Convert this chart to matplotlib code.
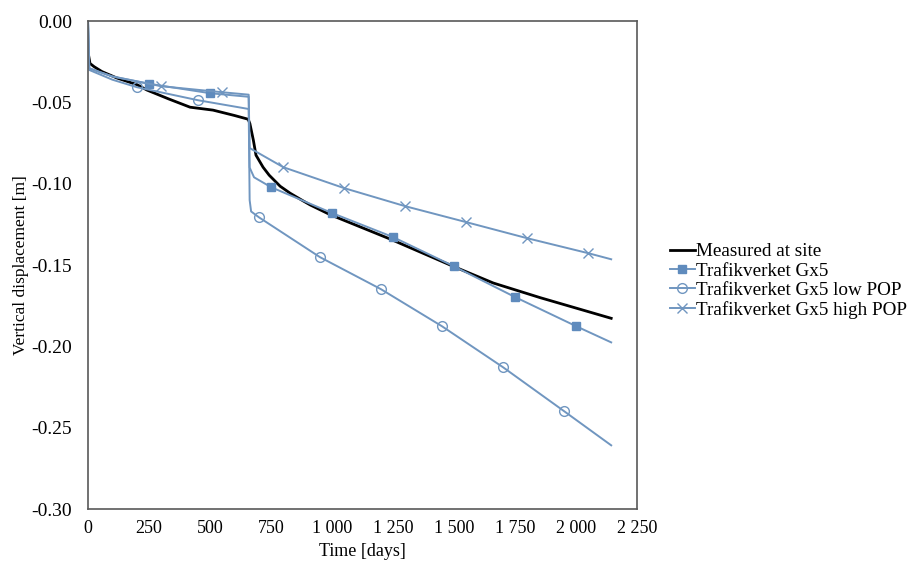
import numpy as np
import matplotlib.pyplot as plt
from matplotlib.ticker import FixedLocator, FixedFormatter

plt.rcParams['font.family'] = ['Liberation Serif', 'DejaVu Serif']

# measured settlement
meas_days = [0, 8, 25, 57, 119, 200, 242, 330, 418, 512, 600, 656, 663, 677, 688, 717, 742,
             787, 828, 881, 910, 992, 1238, 1500, 1660, 1852, 2143]
meas_disp = [-0.019, -0.026, -0.028, -0.031, -0.035, -0.039, -0.0424, -0.0478, -0.0529, -0.0547,
             -0.058, -0.0603, -0.063, -0.073, -0.0824, -0.0898, -0.0947,
             -0.1015, -0.1058, -0.1105, -0.113, -0.119, -0.134, -0.151, -0.161, -0.170, -0.1827]

# Trafikverket Gx5 (markers every 250 days from 250)
gx5_days = [0, 5, 100, 250, 500, 658, 662, 680, 750, 1000, 1250, 1500, 1750, 2000, 2143]
gx5_disp = [0.0, -0.029, -0.034, -0.0385, -0.0443, -0.0465, -0.090, -0.096, -0.1021, -0.118,
            -0.1328, -0.1508, -0.1697, -0.1876, -0.1975]
gx5_marks = [3, 4, 8, 9, 10, 11, 12, 13]

# low POP (markers from 200)
low_days = [0, 5, 100, 200, 450, 658, 662, 668, 700, 950, 1200, 1450, 1700, 1950, 2143]
low_disp = [0.0, -0.030, -0.036, -0.0406, -0.0486, -0.054, -0.110, -0.117, -0.1206, -0.1451,
            -0.1648, -0.1876, -0.2128, -0.2398, -0.2608]
low_marks = [3, 4, 8, 9, 10, 11, 12, 13]

# high POP (markers from 300)
high_days = [0, 5, 100, 300, 550, 658, 662, 800, 1050, 1300, 1550, 1800, 2050, 2143]
high_disp = [0.0, -0.029, -0.034, -0.0400, -0.0437, -0.0452, -0.078, -0.0898, -0.1027,
             -0.1138, -0.1236, -0.1335, -0.1427, -0.1464]
high_marks = [3, 4, 7, 8, 9, 10, 11, 12]

x_ticks = [0, 250, 500, 750, 1000, 1250, 1500, 1750, 2000, 2250]
x_labels = ['0', '250', '500', '750', '1 000', '1 250', '1 500', '1 750', '2 000', '2 250']
y_ticks = [0.0, -0.05, -0.10, -0.15, -0.20, -0.25, -0.30]
y_labels = ['0.00', '-0.05', '-0.10', '-0.15', '-0.20', '-0.25', '-0.30']

blue = '#7096c0'
mblue = '#5f8bbd'

fig = plt.figure(figsize=(9.17, 5.72), dpi=100)
ax = fig.add_axes([0.096, 0.110, 0.599, 0.853])

ax.plot(meas_days, meas_disp, color='black', lw=2.0, label='Measured at site')
ax.plot(gx5_days, gx5_disp, color=blue, lw=1.4, marker='s', ms=6, mfc=mblue, mec=mblue,
        markevery=gx5_marks, label='Trafikverket Gx5')
ax.plot(low_days, low_disp, color=blue, lw=1.4, marker='o', ms=7, mfc='none', mec=blue,
        mew=1.0, markevery=low_marks, label='Trafikverket Gx5 low POP')
ax.plot(high_days, high_disp, color=blue, lw=1.4, marker='x', ms=7, mec=blue, mew=1.0,
        markevery=high_marks, label='Trafikverket Gx5 high POP')

ax.set_xlim(0, 2250)
ax.set_ylim(-0.30, 0.0)
ax.xaxis.set_major_locator(FixedLocator(x_ticks))
ax.xaxis.set_major_formatter(FixedFormatter(x_labels))
ax.yaxis.set_major_locator(FixedLocator(y_ticks))
ax.yaxis.set_major_formatter(FixedFormatter(y_labels))
ax.tick_params(axis='x', length=0, labelsize=13, pad=8)
ax.tick_params(axis='y', length=0, labelsize=14, pad=11.5)
for s in ax.spines.values():
    s.set_color('#595959')
    s.set_linewidth(1.2)

ax.set_xlabel('Time [days]', fontsize=13, labelpad=4)
ax.set_ylabel('Vertical displacement [m]', fontsize=12.5, labelpad=2)

fig.legend(loc='center left', bbox_to_anchor=(0.722, 0.509), frameon=False, fontsize=13.8,
           handlelength=1.3, handletextpad=0.05, labelspacing=0.1, borderaxespad=0)

fig.savefig('out.png', dpi=100)
